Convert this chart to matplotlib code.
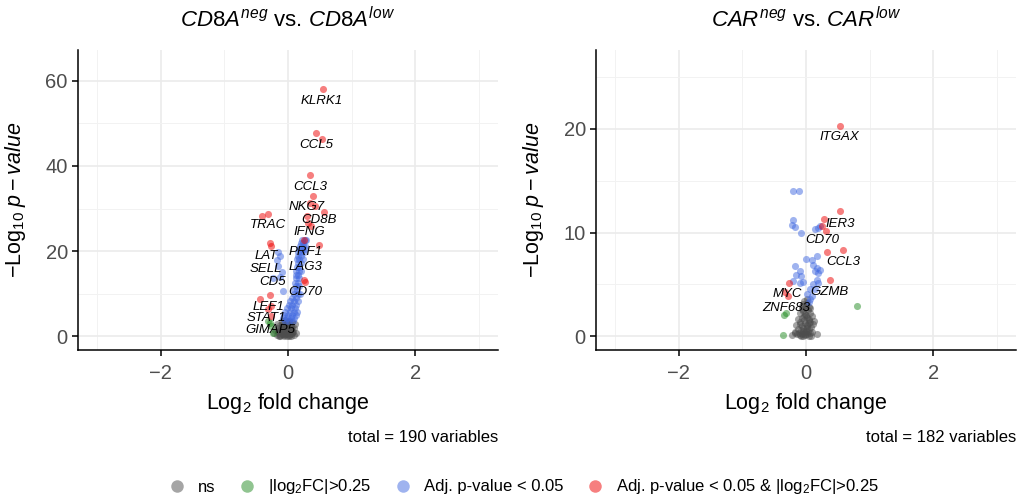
import matplotlib
matplotlib.use("Agg")
import matplotlib.pyplot as plt
from matplotlib.lines import Line2D
from matplotlib.ticker import MultipleLocator

plt.rcParams['font.family'] = ['Liberation Sans', 'DejaVu Sans']
plt.rcParams['mathtext.fontset'] = 'custom'
plt.rcParams['mathtext.rm'] = 'Liberation Sans'
plt.rcParams['mathtext.it'] = 'Liberation Sans:italic'
plt.rcParams['mathtext.bf'] = 'Liberation Sans:bold'

# ---- CD8A panel data (log2FC, -log10 p) ----
cd8_red_x = [0.556, 0.436, 0.535, 0.346, 0.40, 0.346, 0.425, 0.567, 0.294, 0.32, 0.36,
             -0.415, -0.31, -0.28, -0.26, 0.49, 0.25, 0.257, 0.27, -0.28, -0.44, -0.26,
             -0.32, -0.26]
cd8_red_y = [58.0, 47.8, 46.4, 37.9, 33.0, 31.3, 30.5, 29.1, 28.2, 26.7, 26.0,
             28.3, 28.8, 21.8, 21.3, 21.5, 22.7, 13.3, 12.8, 9.8, 8.7, 7.1,
             6.5, 4.8]
cd8_blue_x = [-0.15, -0.13, -0.17, -0.15, -0.10, -0.13, -0.08, -0.23,
              0.22, 0.26, 0.29, 0.20, 0.24, 0.19, 0.23, 0.27, 0.18, 0.22, 0.26,
              0.16, 0.20, 0.25, 0.15, 0.21, 0.14, 0.18, 0.23, 0.15, 0.20, 0.14, 0.18,
              0.13, 0.17, 0.20, 0.12, 0.16, 0.13, 0.18, 0.11, 0.15, 0.12, 0.17,
              0.10, 0.14, 0.09, 0.15, 0.19, 0.06, 0.12, 0.03, 0.10, 0.15,
              0.01, 0.07, 0.13, -0.02, 0.05, 0.11, -0.04, 0.03, 0.09, 0.14,
              -0.06, 0.00, 0.06, 0.12, -0.08, -0.02, 0.04, 0.10, -0.05, 0.02, 0.08]
cd8_blue_y = [19.7, 18.8, 18.0, 16.5, 15.0, 14.0, 10.6, 13.8,
              22.7, 22.7, 22.7, 21.9, 21.9, 21.2, 21.2, 21.2, 20.4, 20.4, 20.4,
              19.7, 19.7, 19.7, 18.9, 18.9, 18.1, 18.1, 18.1, 17.2, 17.2, 16.3, 16.3,
              15.4, 15.4, 15.4, 14.5, 14.5, 13.6, 13.6, 12.6, 12.6, 11.8, 11.8,
              10.9, 10.9, 10.0, 10.0, 10.0, 9.1, 9.1, 8.3, 8.3, 8.3,
              7.4, 7.4, 7.4, 6.6, 6.6, 6.6, 5.8, 5.8, 5.8, 5.8,
              5.0, 5.0, 5.0, 5.0, 4.3, 4.3, 4.3, 4.3, 3.6, 3.6, 3.6]
cd8_gray_x = [-0.18, -0.14, -0.10, -0.06, -0.02, 0.02, 0.06, -0.16, -0.12, -0.08,
              -0.04, 0.00, 0.04, 0.08, -0.20, -0.15, -0.11, -0.07, -0.03, 0.01,
              0.05, 0.10, -0.13, -0.09, -0.05, -0.01, 0.03, 0.07, -0.17, 0.11,
              -0.10, -0.04, 0.02, -0.22, -0.06, 0.09, 0.12, -0.01, -0.13, 0.04,
              -0.08, -0.03, 0.02, 0.06, -0.12, -0.06, 0.00, 0.05, -0.09, -0.02,
              0.03, -0.15, -0.05, 0.01, 0.07, -0.10, -0.04, 0.04, -0.07, 0.00]
cd8_gray_y = [0.4, 0.2, 0.5, 0.3, 0.1, 0.4, 0.7, 1.0, 1.3, 0.9,
              1.2, 0.8, 1.5, 1.1, 1.6, 2.0, 1.8, 2.2, 1.7, 2.0,
              2.4, 1.9, 2.6, 3.0, 2.7, 3.1, 2.9, 3.3, 2.9, 2.8,
              3.6, 3.8, 3.5, 0.7, 0.0, 0.3, 0.9, 0.5, 0.0, 0.1,
              0.6, 0.9, 1.1, 1.0, 0.3, 1.5, 1.4, 1.9, 2.4, 2.1,
              2.5, 1.3, 0.6, 0.2, 2.0, 2.0, 2.5, 0.6, 1.6, 3.4]
cd8_green_x = [-0.31, -0.28, -0.23, -0.27]
cd8_green_y = [3.6, 3.2, 0.9, 2.4]
cd8_genes = ['KLRK1', 'CCL5', 'CCL3', 'NKG7', 'CD8B', 'TRAC', 'IFNG', 'PRF1',
             'LAT', 'SELL', 'LAG3', 'CD5', 'CD70', 'LEF1', 'STAT1', 'GIMAP5']
cd8_gene_x = [0.53, 0.44, 0.35, 0.30, 0.48, -0.32, 0.34, 0.27,
              -0.34, -0.35, 0.27, -0.24, 0.27, -0.30, -0.34, -0.28]
cd8_gene_y = [55.3, 45.0, 35.0, 30.3, 27.2, 26.1, 24.5, 19.7,
              18.8, 15.8, 16.3, 12.7, 10.4, 7.0, 4.4, 1.6]

# ---- CAR panel data ----
car_red_x = [0.535, 0.535, 0.29, 0.25, 0.315, 0.58, 0.335, 0.37, -0.26, -0.33, -0.29]
car_red_y = [20.3, 12.05, 11.35, 10.6, 10.2, 8.37, 8.14, 5.4, 5.16, 4.26, 3.88]
car_blue_x = [-0.20, -0.105, -0.20, -0.225, -0.17, -0.08, 0.14, 0.195, 0.22,
              0.00, 0.09, 0.17, 0.115, 0.17, 0.14, 0.195, 0.22, -0.17, -0.095,
              -0.15, -0.08, -0.21, -0.095, -0.04, 0.17, 0.115, 0.195, 0.06, 0.14,
              0.01, 0.06, 0.10, 0.04]
car_blue_y = [14.0, 14.0, 11.25, 10.77, 10.55, 9.97, 10.35, 10.45, 10.6,
              7.47, 7.4, 7.72, 6.92, 6.6, 6.3, 6.12, 6.4, 6.76, 6.28,
              5.96, 5.8, 5.32, 5.16, 5.2, 5.48, 5.0, 5.16, 4.52, 4.52,
              4.04, 3.56, 3.9, 3.3]
car_gray_x = [-0.18, -0.14, -0.10, -0.06, -0.02, 0.02, 0.06, 0.10, -0.12, -0.08,
              -0.04, 0.00, 0.04, 0.08, -0.15, -0.10, -0.06, -0.02, 0.02, 0.06,
              0.11, -0.13, -0.07, -0.03, 0.01, 0.05, 0.09, -0.09, -0.05, -0.01,
              0.03, 0.07, -0.06, 0.00, 0.04, -0.22, 0.18, -0.17, 0.13, -0.03,
              0.01, -0.08, 0.05, -0.11, 0.08, -0.02, 0.02, -0.04,
              -0.07, -0.01, 0.03, -0.05, 0.01, -0.09, 0.05, -0.03, 0.00, -0.06,
              0.04, -0.02, 0.02, -0.04, 0.07]
car_gray_y = [0.3, 0.2, 0.1, 0.2, 0.1, 0.2, 0.3, 0.4, 0.7, 0.6,
              0.8, 0.5, 0.7, 0.9, 1.1, 1.2, 1.0, 1.3, 1.1, 1.4,
              1.2, 1.7, 1.8, 1.6, 1.9, 1.7, 2.0, 2.3, 2.4, 2.2,
              2.5, 2.3, 2.9, 3.0, 2.8, 0.12, 0.26, 0.4, 1.5, 3.4,
              3.6, 0.0, 0.0, 0.3, 0.05, 0.45, 1.0, 0.05,
              0.35, 0.25, 0.45, 0.55, 0.85, 1.4, 1.25, 2.0, 2.1, 2.6,
              1.55, 2.75, 3.25, 3.1, 2.7]
car_green_x = [0.80, -0.315, -0.34, -0.36]
car_green_y = [2.88, 2.28, 2.10, 0.13]
car_genes = ['ITGAX', 'IER3', 'CD70', 'CCL3', 'GZMB', 'MYC', 'ZNF683']
car_gene_x = [0.525, 0.535, 0.26, 0.58, 0.37, -0.29, -0.315]
car_gene_y = [19.2, 10.87, 9.33, 7.18, 4.26, 4.13, 2.69]

col_ns = '#4D4D4D'
col_fc = '#228B22'
col_p = '#4169E1'
col_both = '#EE0000'
legend_labels = ['ns', r'|log$_2$FC|>0.25', 'Adj. p-value < 0.05',
                 r'Adj. p-value < 0.05 & |log$_2$FC|>0.25']


def volcano(ax, gray, green, blue, red, genes, ymax, ymajor, title, total):
    ax.scatter(*gray, s=26, color=col_ns, alpha=0.5, linewidths=0)
    ax.scatter(*green, s=26, color=col_fc, alpha=0.5, linewidths=0)
    ax.scatter(*blue, s=26, color=col_p, alpha=0.5, linewidths=0)
    ax.scatter(*red, s=26, color=col_both, alpha=0.5, linewidths=0)
    for name, gx, gy in zip(*genes):
        ax.text(gx, gy, name, fontsize=9.5, fontstyle='italic', ha='center', va='center')

    ax.set_xlim(-3.3, 3.3)
    ax.set_ylim(-ymax * 0.05 / 1.05, ymax)
    ax.xaxis.set_major_locator(MultipleLocator(2))
    ax.xaxis.set_minor_locator(MultipleLocator(1))
    ax.yaxis.set_major_locator(MultipleLocator(ymajor))
    ax.yaxis.set_minor_locator(MultipleLocator(ymajor / 2))
    ax.grid(True, which='major', color='#EBEBEB', lw=1.2)
    ax.grid(True, which='minor', color='#F2F2F2', lw=0.7)
    ax.set_axisbelow(True)
    for side in ['top', 'right']:
        ax.spines[side].set_visible(False)
    for side in ['left', 'bottom']:
        ax.spines[side].set_linewidth(1.1)
    ax.tick_params(which='major', length=4.3, width=1.1, color='black',
                   labelcolor='#4D4D4D', labelsize=14.5, pad=3)
    ax.tick_params(axis='x', which='major', pad=6)
    ax.tick_params(which='minor', length=0)

    ax.set_xlabel(r'$\mathrm{Log}_{2}$ fold change', fontsize=15.5)
    ax.xaxis.set_label_coords(0.5, -0.135)
    ax.set_ylabel(r'$-\mathrm{Log}_{10}\ \mathit{p} - \mathit{value}$', fontsize=15.5)
    ax.yaxis.set_label_coords(-0.12, 0.5)
    ax.text(0.5, 1.1, title, transform=ax.transAxes, ha='center', va='center', fontsize=16)
    ax.text(1.0, -0.293, f'total = {total} variables', transform=ax.transAxes,
            ha='right', va='center', fontsize=12)


fig = plt.figure(figsize=(10.17, 5), dpi=100)
ax1 = fig.add_axes([78 / 1017, 0.30, 420 / 1017, 0.60])
ax2 = fig.add_axes([596 / 1017, 0.30, 420 / 1017, 0.60])

volcano(ax1, (cd8_gray_x, cd8_gray_y), (cd8_green_x, cd8_green_y),
        (cd8_blue_x, cd8_blue_y), (cd8_red_x, cd8_red_y),
        (cd8_genes, cd8_gene_x, cd8_gene_y), 67.2, 20,
        r'$\mathit{CD8A}^{\mathit{neg}}$ vs. $\mathit{CD8A}^{\mathit{low}}$', 190)
volcano(ax2, (car_gray_x, car_gray_y), (car_green_x, car_green_y),
        (car_blue_x, car_blue_y), (car_red_x, car_red_y),
        (car_genes, car_gene_x, car_gene_y), 27.6, 10,
        r'$\mathit{CAR}^{\mathit{neg}}$ vs. $\mathit{CAR}^{\mathit{low}}$', 182)

handles = [Line2D([], [], marker='o', ls='none', markersize=9, markeredgewidth=0,
                  color=c, alpha=0.5) for c in [col_ns, col_fc, col_p, col_both]]
fig.legend(handles, legend_labels, loc='center', bbox_to_anchor=(0.515, 0.026),
           ncol=4, frameon=False, fontsize=12, handlelength=1.0,
           handletextpad=0.75, columnspacing=1.4)

fig.savefig('out.png', dpi=100)
